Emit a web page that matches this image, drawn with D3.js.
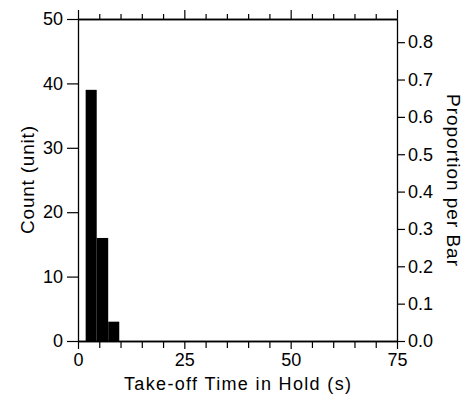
<!DOCTYPE html>
<html>
<head>
<meta charset="utf-8">
<script src="https://cdn.jsdelivr.net/npm/d3@7"></script>
<style>
  body { margin: 0; background: #fff; }
  text { font-family: "Liberation Sans", Arial, sans-serif; fill: #000; }
</style>
</head>
<body>
<div id="viz"></div>
<script>
// histogram bins (seconds) and counts
var binEdges = [1.8, 4.4, 7.1, 9.7];
var counts = [39, 16, 3];
var xTicks = [0, 25, 50, 75];
var yTicks = [0, 10, 20, 30, 40, 50];
var propTicks = [0, 0.1, 0.2, 0.3, 0.4, 0.5, 0.6, 0.7, 0.8];

var w = 470, h = 409;
var pLeft = 78, pRight = 397, pTop = 19, pBottom = 341;

var total = d3.sum(counts);

var svg = d3.select('#viz')
  .append('svg')
  .attr('width', w)
  .attr('height', h);

var x = d3.scaleLinear().domain([0, 75]).range([pLeft, pRight]);
var y = d3.scaleLinear().domain([0, 50]).range([pBottom, pTop]);
var yp = d3.scaleLinear().domain([0, 50 / total]).range([pBottom, pTop]);

var bars = counts.map(function(c, i) {
  return { x0: binEdges[i], x1: binEdges[i + 1], n: c };
});

svg.selectAll('rect.bar')
  .data(bars)
  .enter()
  .append('rect')
  .attr('class', 'bar')
  .attr('x', d => x(d.x0))
  .attr('y', d => y(d.n))
  .attr('width', d => x(d.x1) - x(d.x0))
  .attr('height', d => y(0) - y(d.n))
  .attr('fill', '#000');

var minor = d3.range(0, 76, 5).filter(v => xTicks.indexOf(v) < 0);

// bottom axis
svg.append('g')
  .attr('transform', 'translate(0,' + pBottom + ')')
  .call(d3.axisBottom(x).tickValues(xTicks).tickFormat(d3.format('d')).tickSize(8).tickPadding(4).tickSizeOuter(0));
svg.append('g')
  .attr('transform', 'translate(0,' + pBottom + ')')
  .call(d3.axisBottom(x).tickValues(minor).tickFormat('').tickSize(7).tickSizeOuter(0));

// top axis
svg.append('g')
  .attr('transform', 'translate(0,' + pTop + ')')
  .call(d3.axisTop(x).tickValues(xTicks).tickFormat('').tickSize(9).tickSizeOuter(0));
svg.append('g')
  .attr('transform', 'translate(0,' + pTop + ')')
  .call(d3.axisTop(x).tickValues(minor).tickFormat('').tickSize(5).tickSizeOuter(0));

// left axis
svg.append('g')
  .attr('transform', 'translate(' + pLeft + ',0)')
  .call(d3.axisLeft(y).tickValues(yTicks).tickSize(11).tickPadding(4).tickSizeOuter(0));

// right axis
svg.append('g')
  .attr('transform', 'translate(' + pRight + ',0)')
  .call(d3.axisRight(yp).tickValues(propTicks).tickFormat(d3.format('.1f')).tickSize(8).tickPadding(3).tickSizeOuter(0));

svg.selectAll('.domain').attr('stroke', '#000').attr('stroke-width', 1.3);
svg.selectAll('.tick line').attr('stroke', '#000').attr('stroke-width', 1.2);
svg.selectAll('.tick text').style('font-size', '18px').attr('fill', '#000');

// titles
svg.append('text')
  .attr('x', (pLeft + pRight) / 2)
  .attr('y', 390)
  .attr('text-anchor', 'middle')
  .attr('textLength', 227)
  .style('font-size', '18px')
  .text('Take-off Time in Hold (s)');

svg.append('text')
  .attr('transform', 'translate(27,' + ((pTop + pBottom) / 2) + ') rotate(-90)')
  .attr('text-anchor', 'middle')
  .attr('dy', '0.35em')
  .attr('textLength', 108)
  .style('font-size', '19px')
  .text('Count (unit)');

svg.append('text')
  .attr('transform', 'translate(454,' + ((pTop + pBottom) / 2) + ') rotate(90)')
  .attr('text-anchor', 'middle')
  .attr('dy', '0.35em')
  .attr('textLength', 172)
  .style('font-size', '19px')
  .text('Proportion per Bar');
</script>
</body>
</html>
